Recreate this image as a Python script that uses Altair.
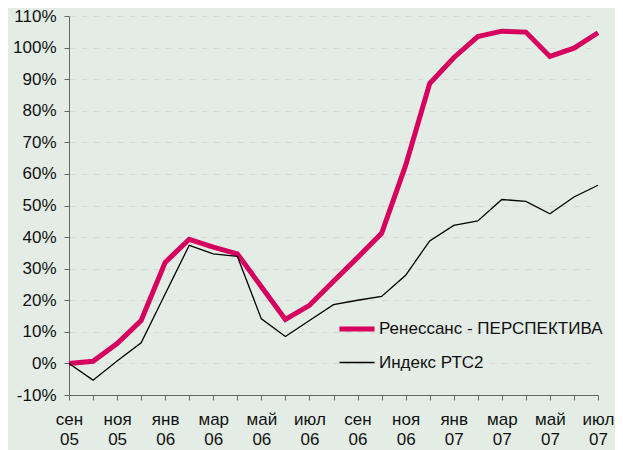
import json
import altair as alt
import pandas as pd

months = ["сен 05", "окт 05", "ноя 05", "дек 05", "янв 06", "фев 06", "мар 06", "апр 06",
          "май 06", "июн 06", "июл 06", "авг 06", "сен 06", "окт 06", "ноя 06", "дек 06",
          "янв 07", "фев 07", "мар 07", "апр 07", "май 07", "июн 07", "июл 07"]
renaissance = [0, 0.7, 6.3, 13.6, 32, 39.3, 36.8, 34.7, 24.3, 13.9, 18.4, 26, 33.5, 41.2,
               62.7, 88.6, 96.8, 103.5, 105.2, 104.9, 97.2, 99.8, 104.7]
rts2 = [0, -5.3, 0.8, 6.5, 22, 37.4, 34.7, 33.9, 14.1, 8.5, 13.6, 18.6, 20, 21.2,
        27.9, 38.8, 43.7, 45.1, 51.9, 51.3, 47.4, 52.7, 56.4]
series_names = ["Ренессанс - ПЕРСПЕКТИВА", "Индекс РТС2"]
series_colors = ["#D6005E", "#000000"]
series_widths = [5, 1.3]

rows = []
for i, m in enumerate(months):
    rows.append({"i": i, "month": m, "value": renaissance[i], "series": series_names[0]})
    rows.append({"i": i, "month": m, "value": rts2[i], "series": series_names[1]})
df = pd.DataFrame(rows)

font = "Liberation Sans"
fs = 17
label_arr = json.dumps(months, ensure_ascii=False)

x = alt.X("i:Q", title=None,
          scale=alt.Scale(domain=[0, len(months) - 1], nice=False, zero=False),
          axis=alt.Axis(values=list(range(len(months))),
                        labelExpr=f"datum.value % 2 === 0 ? split({label_arr}[datum.value], ' ') : ''",
                        labelOverlap=False, grid=False, tickSize=5, labelPadding=11,
                        labelLineHeight=20, labelFontSize=fs, labelFont=font,
                        labelColor="#111", domainColor="#666", tickColor="#666",
                        labelBaseline="top", labelFlush=False))
y = alt.Y("value:Q", title=None,
          scale=alt.Scale(domain=[-10, 110], nice=False),
          axis=alt.Axis(values=list(range(-10, 111, 10)), labelExpr="datum.value + '%'",
                        grid=True, gridColor="#DDD6D8", gridDash=[6, 6], gridWidth=1,
                        tickSize=5, labelPadding=8, labelFontSize=fs, labelFont=font,
                        labelColor="#111", domainColor="#666", tickColor="#666"))
leg = dict(title=None, orient="none", legendX=268, legendY=293,
           symbolType="stroke", symbolSize=1225, labelFontSize=fs,
           labelFont=font, labelColor="#111", rowPadding=5,
           labelOffset=2, labelLimit=400)
color = alt.Color("series:N", sort=series_names,
                  scale=alt.Scale(domain=series_names, range=series_colors),
                  legend=alt.Legend(**leg))
sw = alt.StrokeWidth("series:N", sort=series_names,
                     scale=alt.Scale(domain=series_names, range=series_widths),
                     legend=alt.Legend(**leg))

base = alt.Chart(df)
pink = base.transform_filter(alt.datum.series == series_names[0]).mark_line().encode(
    x=x, y=y, color=color, strokeWidth=sw)
black = base.transform_filter(alt.datum.series == series_names[1]).mark_line().encode(
    x=x, y=y, color=color, strokeWidth=sw)

chart = alt.layer(pink, black).properties(
    width=529, height=379,
    background="#E3EDE5",
    padding={"left": 61, "top": 8, "right": 17, "bottom": 55},
    autosize=alt.AutoSizeParams(type="none"),
).configure_view(stroke=None)

chart.save("out.html", embed_options={"renderer": "svg", "actions": False})
